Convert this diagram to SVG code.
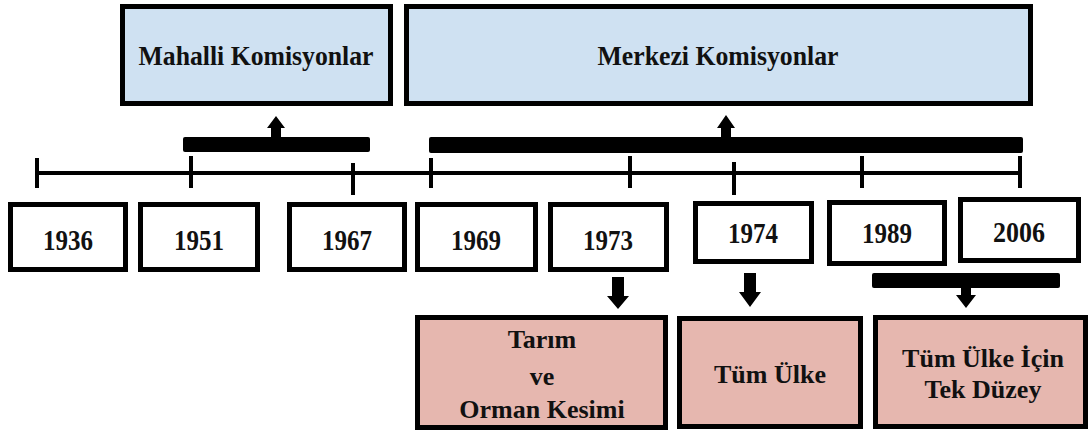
<svg xmlns="http://www.w3.org/2000/svg" width="1090" height="433" viewBox="0 0 1090 433">
<style>
.box{stroke:#000;stroke-width:5}
.blue{fill:#cfe1f2}
.pink{fill:#e6b7af}
.white{fill:#fff}
.t{font-family:'Liberation Serif','DejaVu Serif',serif;font-weight:bold;fill:#111;text-anchor:middle}
.big{font-size:27px}
.mid{font-size:26px}
.yr{font-size:30px}
.line{stroke:#000;stroke-width:4;fill:none}
.bar{fill:#000}
</style>
<rect width="1090" height="433" fill="#fff"/>
<g id="mahalli">
<rect class="box blue" x="122.5" y="6.5" width="268" height="97"/>
<text class="t big" x="256" y="65" textLength="235" lengthAdjust="spacingAndGlyphs">Mahalli Komisyonlar</text>
</g>
<g id="merkezi">
<rect class="box blue" x="406.5" y="6.5" width="624" height="97"/>
<text class="t big" x="718" y="65" textLength="241" lengthAdjust="spacingAndGlyphs">Merkezi Komisyonlar</text>
</g>
<g id="connectors">
<line class="line" x1="37" y1="173" x2="1020" y2="173"/>
<line class="line" x1="37" y1="158" x2="37" y2="188"/>
<line class="line" x1="191" y1="156" x2="191" y2="188"/>
<line class="line" x1="353" y1="163" x2="353" y2="195"/>
<line class="line" x1="431" y1="158" x2="431" y2="188"/>
<line class="line" x1="630" y1="156" x2="630" y2="188"/>
<line class="line" x1="734" y1="162" x2="734" y2="195"/>
<line class="line" x1="862" y1="156" x2="862" y2="188"/>
<line class="line" x1="1020" y1="156" x2="1020" y2="188"/>
<rect class="bar" x="183" y="137" width="187" height="15" rx="2"/>
<rect class="bar" x="429" y="137" width="594" height="16" rx="2"/>
<rect class="bar" x="872" y="273" width="188" height="15" rx="2"/>
<polygon class="bar" points="271,138 271,128 267,128 276,116 285,128 281,128 281,138"/>
<polygon class="bar" points="721,138 721,128 717,128 726,115 735,128 731,128 731,138"/>
<polygon class="bar" points="612,277 624,277 624,296 629,296 618,309 607,296 612,296"/>
<polygon class="bar" points="744,273 756,273 756,292 761,292 750,307 739,292 744,292"/>
<polygon class="bar" points="961,287 971,287 971,295 976,295 966,308 956,295 961,295"/>
</g>
<g id="y1936"><rect class="box white" x="10.5" y="204.5" width="115" height="65"/><text class="t yr" x="68" y="250" textLength="50" lengthAdjust="spacingAndGlyphs">1936</text></g>
<g id="y1951"><rect class="box white" x="140.5" y="204.5" width="117" height="65"/><text class="t yr" x="199" y="250" textLength="50" lengthAdjust="spacingAndGlyphs">1951</text></g>
<g id="y1967"><rect class="box white" x="289.5" y="204.5" width="115" height="65"/><text class="t yr" x="347" y="250" textLength="50" lengthAdjust="spacingAndGlyphs">1967</text></g>
<g id="y1969"><rect class="box white" x="417.5" y="204.5" width="118" height="65"/><text class="t yr" x="476" y="250" textLength="50" lengthAdjust="spacingAndGlyphs">1969</text></g>
<g id="y1973"><rect class="box white" x="550.5" y="204.5" width="116" height="65"/><text class="t yr" x="608" y="250" textLength="50" lengthAdjust="spacingAndGlyphs">1973</text></g>
<g id="y1974"><rect class="box white" x="695.5" y="203.5" width="116" height="58"/><text class="t yr" x="753" y="243" textLength="50" lengthAdjust="spacingAndGlyphs">1974</text></g>
<g id="y1989"><rect class="box white" x="829.5" y="202.5" width="115" height="61"/><text class="t yr" x="887" y="243" textLength="50" lengthAdjust="spacingAndGlyphs">1989</text></g>
<g id="y2006"><rect class="box white" x="960.5" y="199.5" width="118" height="61"/><text class="t yr" x="1019" y="242" textLength="52" lengthAdjust="spacingAndGlyphs">2006</text></g>
<g id="tarim">
<rect class="box pink" x="417.5" y="317.5" width="248" height="110"/>
<text class="t mid" x="542" y="348">Tarım</text>
<text class="t mid" x="542" y="385">ve</text>
<text class="t mid" x="542" y="418">Orman Kesimi</text>
</g>
<g id="tumulke">
<rect class="box pink" x="679.5" y="318.5" width="181" height="108"/>
<text class="t mid" x="770" y="383">Tüm Ülke</text>
</g>
<g id="tekduzey">
<rect class="box pink" x="875.5" y="317.5" width="210" height="109"/>
<text class="t mid" x="983" y="367">Tüm Ülke İçin</text>
<text class="t mid" x="983" y="398">Tek Düzey</text>
</g>
</svg>
